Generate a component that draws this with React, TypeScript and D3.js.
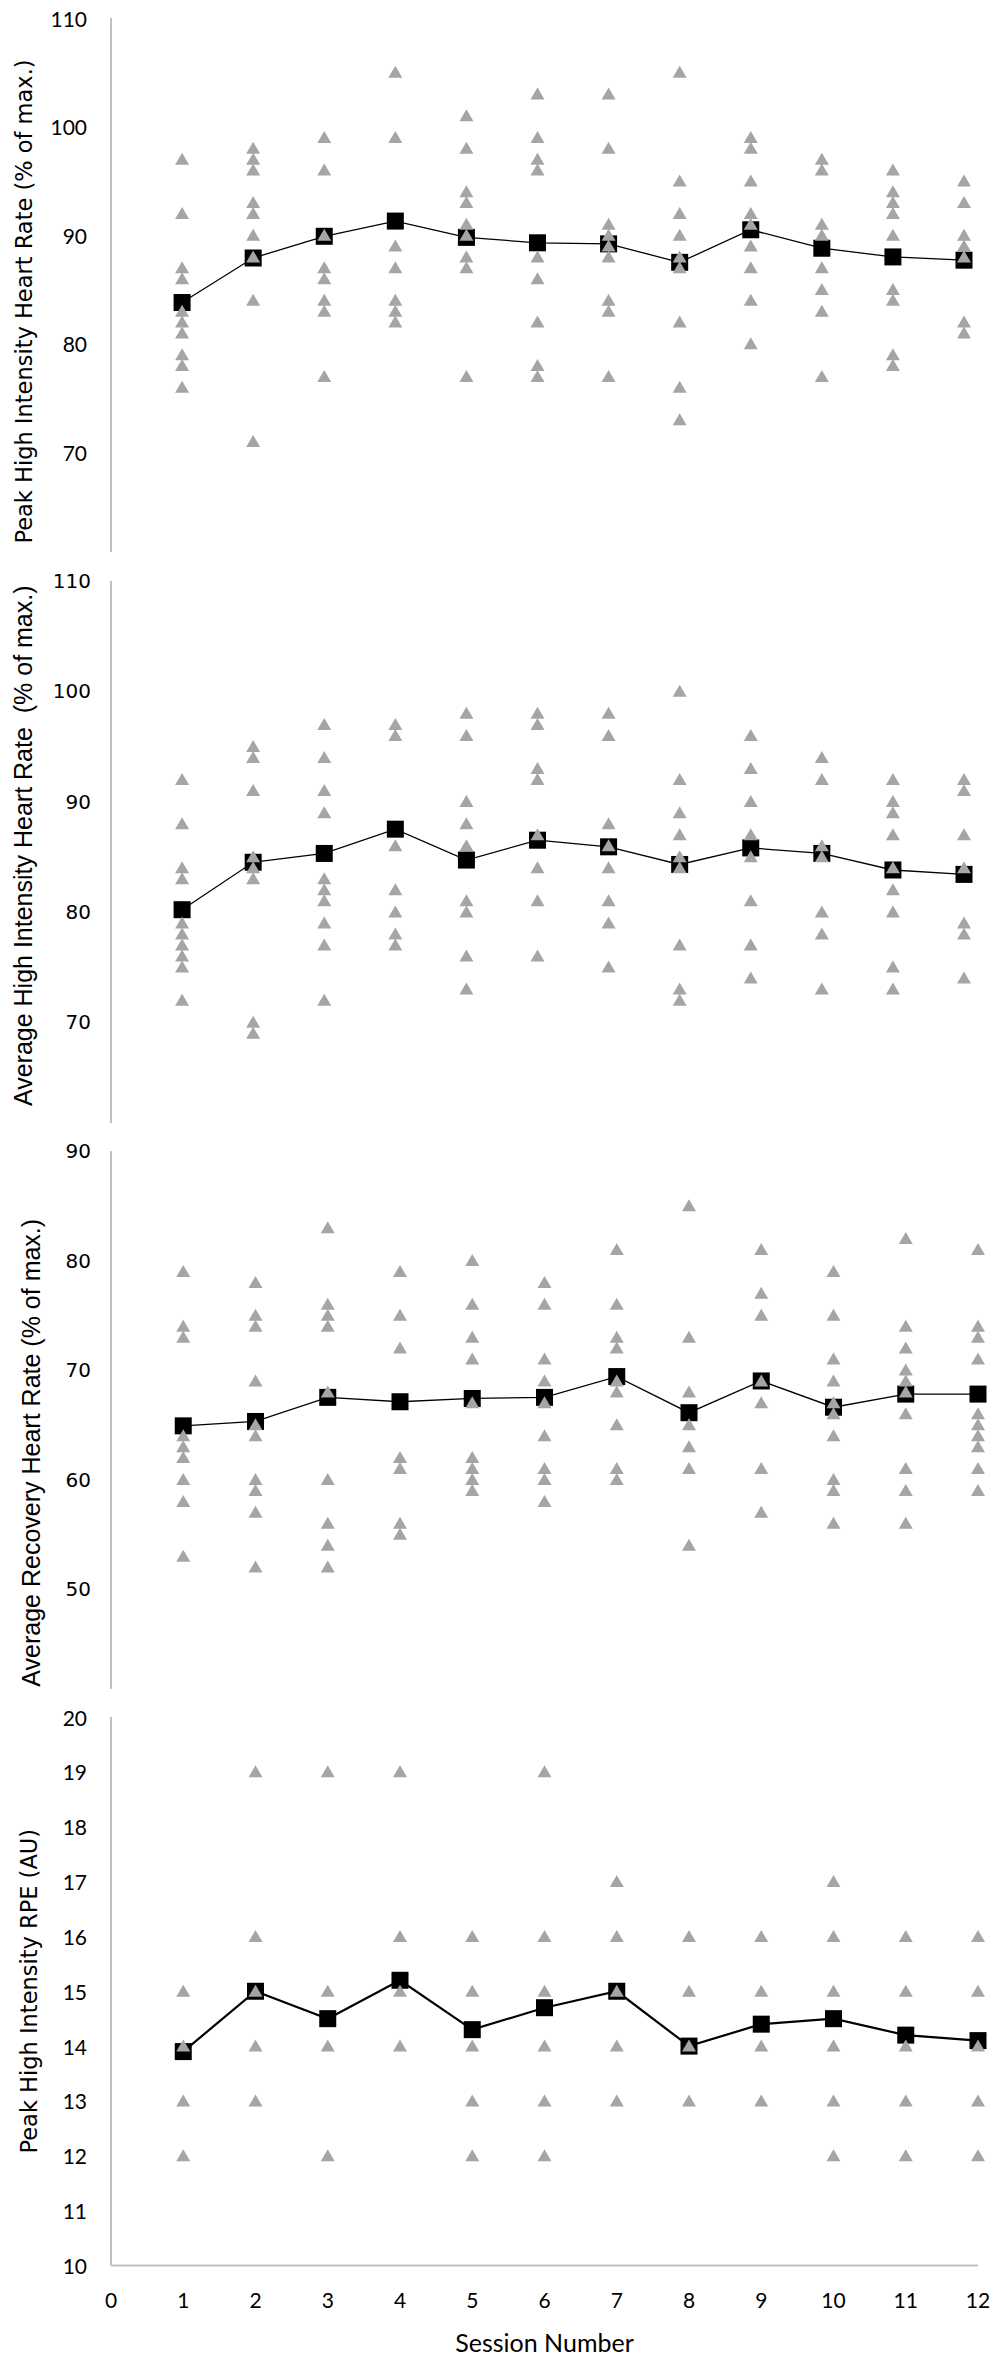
import React, { useEffect, useRef } from 'react';
import * as d3 from 'd3';

const sessions = [1, 2, 3, 4, 5, 6, 7, 8, 9, 10, 11, 12];
const sessionTicks = [0, 1, 2, 3, 4, 5, 6, 7, 8, 9, 10, 11, 12];

// individual participants, one list per session
const peakHr = [
  [97, 92, 87, 86, 83, 82, 81, 79, 78, 76],
  [98, 97, 96, 93, 92, 90, 88, 84, 71],
  [99, 96, 90, 87, 86, 84, 83, 77],
  [105, 99, 89, 87, 84, 83, 82],
  [101, 98, 94, 93, 91, 90, 88, 87, 77],
  [103, 99, 97, 96, 88, 86, 82, 78, 77],
  [103, 98, 91, 90, 89, 88, 84, 83, 77],
  [105, 95, 92, 90, 88, 87, 82, 76, 73],
  [99, 98, 95, 92, 91, 89, 87, 84, 80],
  [97, 96, 91, 90, 87, 85, 83, 77],
  [96, 94, 93, 92, 90, 85, 84, 79, 78],
  [95, 93, 90, 89, 88, 82, 81],
];
const peakHrMean = [83.8, 87.9, 89.9, 91.3, 89.8, 89.3, 89.2, 87.5, 90.5, 88.8, 88.0, 87.7];

const avgHr = [
  [92, 88, 84, 83, 79, 78, 77, 76, 75, 72],
  [95, 94, 91, 85, 84, 83, 70, 69],
  [97, 94, 91, 89, 83, 82, 81, 79, 77, 72],
  [97, 96, 86, 82, 80, 78, 77],
  [98, 96, 90, 88, 86, 81, 80, 76, 73],
  [98, 97, 93, 92, 87, 84, 81, 76],
  [98, 96, 88, 86, 84, 81, 79, 75],
  [100, 92, 89, 87, 85, 84, 77, 73, 72],
  [96, 93, 90, 87, 85, 81, 77, 74],
  [94, 92, 86, 85, 80, 78, 73],
  [92, 90, 89, 87, 84, 82, 80, 75, 73],
  [92, 91, 87, 84, 79, 78, 74],
];
const avgHrMean = [80.2, 84.5, 85.3, 87.5, 84.7, 86.5, 85.9, 84.3, 85.8, 85.3, 83.8, 83.4];

const recHr = [
  [79, 74, 73, 64, 63, 62, 60, 58, 53],
  [78, 75, 74, 69, 65, 64, 60, 59, 57, 52],
  [83, 76, 75, 74, 68, 60, 56, 54, 52],
  [79, 75, 72, 62, 61, 56, 55],
  [80, 76, 73, 71, 67, 62, 61, 60, 59],
  [78, 76, 71, 69, 67, 64, 61, 60, 58],
  [81, 76, 73, 72, 69, 68, 65, 61, 60],
  [85, 73, 68, 65, 63, 61, 54],
  [81, 77, 75, 69, 67, 61, 57],
  [79, 75, 71, 69, 67, 66, 64, 60, 59, 56],
  [82, 74, 72, 70, 69, 68, 66, 61, 59, 56],
  [81, 74, 73, 71, 66, 65, 64, 63, 61, 59],
];
const recHrMean = [64.9, 65.3, 67.5, 67.1, 67.4, 67.5, 69.4, 66.1, 69.0, 66.6, 67.8, 67.8];

const rpe = [
  [15, 14, 13, 12],
  [19, 16, 15, 14, 13],
  [19, 15, 14, 12],
  [19, 16, 15, 14],
  [16, 15, 14, 13, 12],
  [19, 16, 15, 14, 13, 12],
  [17, 16, 15, 14, 13],
  [16, 15, 14, 13],
  [16, 15, 14, 13],
  [17, 16, 15, 14, 13, 12],
  [16, 15, 14, 13, 12],
  [16, 15, 14, 13, 12],
];
const rpeMean = [13.9, 15.0, 14.5, 15.2, 14.3, 14.7, 15.0, 14.0, 14.4, 14.5, 14.2, 14.1];

const hrTicks = [70, 80, 90, 100, 110];
const recTicks = [50, 60, 70, 80, 90];
const rpeTicks = [10, 11, 12, 13, 14, 15, 16, 17, 18, 19, 20];

const CALIBRI = 'Lato, "Open Sans", sans-serif';
const VERDANA = '"DejaVu Sans", Verdana, sans-serif';
const ARIAL = '"Liberation Sans", Arial, sans-serif';

const panels = [
  {
    title: 'Peak High Intensity Heart Rate (% of max.)', values: peakHr, means: peakHrMean, ticks: hrTicks,
    domain: [60, 110], yRange: [561, 18], axisEnd: 552, xEnd: 964,
    tickFont: CALIBRI, tickSize: 21, tickX: 87, titleFont: VERDANA, titleSize: 22.5, titleX: 24, lineW: 1.3,
  },
  {
    title: 'Average High Intensity Heart Rate  (% of max.)', values: avgHr, means: avgHrMean, ticks: hrTicks,
    domain: [60, 110], yRange: [1132.5, 581], axisEnd: 1123, xEnd: 964,
    tickFont: VERDANA, tickSize: 20, tickX: 91, titleFont: ARIAL, titleSize: 25, titleX: 23, lineW: 1.3,
  },
  {
    title: 'Average Recovery Heart Rate (% of max.)', values: recHr, means: recHrMean, ticks: recTicks,
    domain: [40, 90], yRange: [1698.5, 1151], axisEnd: 1689, xEnd: 978,
    tickFont: VERDANA, tickSize: 20, tickX: 91, titleFont: ARIAL, titleSize: 25, titleX: 31, lineW: 1.3,
  },
  {
    title: 'Peak High Intensity RPE (AU)', values: rpe, means: rpeMean, ticks: rpeTicks,
    domain: [10, 20], yRange: [2265.5, 1717], axisEnd: 2265.5, xEnd: 978,
    tickFont: CALIBRI, tickSize: 21, tickX: 87, titleFont: VERDANA, titleSize: 22.5, titleX: 29, lineW: 2.2,
  },
];

const App: React.FC = () => {
  const svgRef = useRef<SVGSVGElement>(null);

  useEffect(() => {
    if (!svgRef.current) return;
    const svg = d3.select(svgRef.current);
    svg.selectAll('*').remove();

    const axisColor = '#bfbfbf';
    const triColor = '#a5a5a5';
    const tri = 'M0,-6.5 L7,5.5 L-7,5.5 Z';

    panels.forEach((p, pi) => {
      const x = d3.scaleLinear().domain([0, 12]).range([111, p.xEnd]);
      const y = d3.scaleLinear().domain(p.domain).range(p.yRange);
      const g = svg.append('g');

      // y axis line
      g.append('line')
        .attr('x1', 111).attr('x2', 111)
        .attr('y1', y(p.domain[1])).attr('y2', p.axisEnd)
        .attr('stroke', axisColor).attr('stroke-width', 2);

      g.selectAll('text.tick')
        .data(p.ticks)
        .enter()
        .append('text')
        .attr('x', p.tickX)
        .attr('y', d => y(d))
        .attr('text-anchor', 'end')
        .attr('dominant-baseline', 'central')
        .attr('font-family', p.tickFont)
        .attr('font-size', p.tickSize)
        .attr('fill', '#000')
        .text(d => d);

      const [y0, y1] = p.yRange;
      g.append('text')
        .attr('transform', `translate(${p.titleX},${(y0 + y1) / 2 + (pi === 0 ? 12 : pi === 1 ? -11 : pi === 2 ? 28 : 0)}) rotate(-90)`)
        .attr('text-anchor', 'middle')
        .attr('dominant-baseline', 'central')
        .attr('font-family', p.titleFont)
        .attr('font-size', p.titleSize)
        .attr('fill', '#000')
        .attr('xml:space', 'preserve')
        .style('white-space', 'pre')
        .text(p.title);

      // mean line + squares
      const line = d3.line<number>()
        .x((_, i) => x(sessions[i]))
        .y(d => y(d));
      g.append('path')
        .attr('d', line(p.means))
        .attr('fill', 'none')
        .attr('stroke', '#000')
        .attr('stroke-width', p.lineW);

      g.selectAll('rect.mean')
        .data(p.means)
        .enter()
        .append('rect')
        .attr('x', (_, i) => x(sessions[i]) - 8.5)
        .attr('y', d => y(d) - 8.5)
        .attr('width', 17)
        .attr('height', 17)
        .attr('fill', '#000');

      // individual triangles
      const pts = p.values.flatMap((vals, i) => vals.map(v => ({ s: sessions[i], v })));
      g.selectAll('path.tri')
        .data(pts)
        .enter()
        .append('path')
        .attr('d', tri)
        .attr('transform', d => `translate(${x(d.s)},${y(d.v)})`)
        .attr('fill', triColor);

      if (pi === 3) {
        g.append('line')
          .attr('x1', 111).attr('x2', p.xEnd)
          .attr('y1', y(10)).attr('y2', y(10))
          .attr('stroke', axisColor).attr('stroke-width', 2);

        g.selectAll('text.xt')
          .data(sessionTicks)
          .enter()
          .append('text')
          .attr('x', d => x(d))
          .attr('y', 2299)
          .attr('text-anchor', 'middle')
          .attr('dominant-baseline', 'central')
          .attr('font-family', CALIBRI)
          .attr('font-size', 21)
          .attr('fill', '#000')
          .text(d => d);

        g.append('text')
          .attr('x', (111 + p.xEnd) / 2)
          .attr('y', 2342)
          .attr('text-anchor', 'middle')
          .attr('dominant-baseline', 'central')
          .attr('font-family', CALIBRI)
          .attr('font-size', 25)
          .attr('fill', '#000')
          .text('Session Number');
      }
    });
  }, []);

  return (
    <svg
      ref={svgRef}
      width={998}
      height={2358}
      style={{ position: 'absolute', left: 0, top: 0, background: '#fff', display: 'block' }}
    />
  );
};

export default App;
